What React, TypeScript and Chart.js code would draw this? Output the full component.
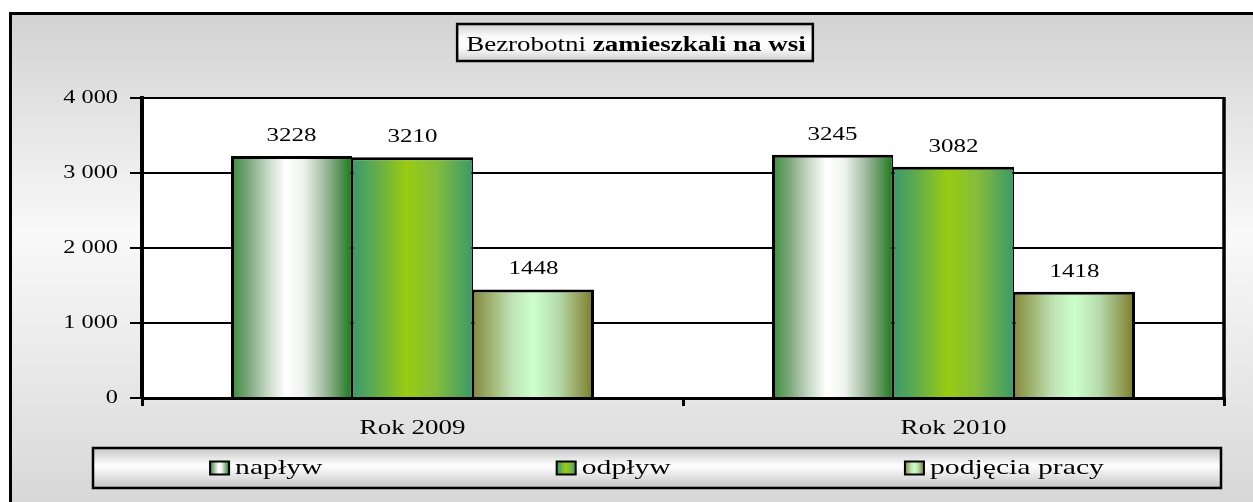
import { useEffect, useRef } from "react";
import { Chart, registerables } from "chart.js";

Chart.register(...registerables);

// ---- data ----
const categories = ["Rok 2009", "Rok 2010"];
const seriesNames = ["napływ", "odpływ", "podjęcia pracy"];
const naplyw = [3228, 3245];
const odplyw = [3210, 3082];
const podjecia = [1448, 1418];
const yTicks = [0, 1000, 2000, 3000, 4000];
const titleNormal = "Bezrobotni ";
const titleBold = "zamieszkali na wsi";

// ---- styles ----
const W = 1253;
const H = 502;
const SX = 1.35; // horizontal stretch of glyphs, as in the reference
const FONT = '"Liberation Serif", "Times New Roman", serif';

const STOPS: [number, string][][] = [
  [
    [0, "#3b8c3b"],
    [0.14, "#7aa67a"],
    [0.3, "#c4d7c4"],
    [0.45, "#ffffff"],
    [0.6, "#eef3ee"],
    [0.76, "#a6c0a6"],
    [0.9, "#5a945a"],
    [1, "#187c18"],
  ],
  [
    [0, "#3a9a6c"],
    [0.2, "#62ac4c"],
    [0.45, "#99cc11"],
    [0.7, "#84bc3c"],
    [1, "#3a9a6a"],
  ],
  [
    [0, "#848a3c"],
    [0.16, "#a2b676"],
    [0.32, "#bfe2b4"],
    [0.5, "#ccffcc"],
    [0.7, "#b7dcac"],
    [0.86, "#98a866"],
    [1, "#7a7a22"],
  ],
];
const BORDERS = [
  { top: 3, left: 3, right: 1.5, bottom: 0 },
  { top: 3, left: 1.5, right: 1.5, bottom: 0 },
  { top: 3, left: 1.5, right: 3, bottom: 0 },
];

function hGrad(ctx: CanvasRenderingContext2D, x0: number, x1: number, stops: [number, string][]) {
  const g = ctx.createLinearGradient(x0, 0, x1, 0);
  stops.forEach(([o, c]) => g.addColorStop(o, c));
  return g;
}

function fmt(v: number) {
  return String(v).replace(/\B(?=(\d{3})+(?!\d))/g, " ");
}

function scaleText(ctx: CanvasRenderingContext2D) {
  const a = ctx as any;
  if (a.__sx) return;
  a.__sx = true;
  const orig = ctx.fillText.bind(ctx);
  a.fillText = (text: string, x: number, y: number) => {
    ctx.save();
    ctx.translate(x, y);
    ctx.scale(SX, 1);
    orig(text, 0, 0);
    ctx.restore();
  };
}

const bgPlugin = {
  id: "bgFrame",
  beforeDraw(chart: any) {
    const { ctx, chartArea } = chart;
    ctx.save();
    ctx.fillStyle = "#ffffff";
    ctx.fillRect(0, 0, W, H);
    const g = ctx.createLinearGradient(0, 13, 0, H);
    g.addColorStop(0, "#d2d2d2");
    g.addColorStop(0.45, "#f9f9f9");
    g.addColorStop(1, "#d8d8d8");
    ctx.fillStyle = g;
    ctx.fillRect(10, 13, W, H);
    ctx.lineWidth = 3;
    ctx.strokeStyle = "#000";
    ctx.strokeRect(10.5, 13.5, W + 20, H + 20);
    ctx.fillStyle = "#ffffff";
    ctx.fillRect(chartArea.left, chartArea.top, chartArea.right - chartArea.left, chartArea.bottom - chartArea.top);
    ctx.restore();
  },
};

const barFillPlugin = {
  id: "barFill",
  beforeDatasetsDraw(chart: any) {
    const { ctx } = chart;
    chart.data.datasets.forEach((_: any, i: number) => {
      const meta = chart.getDatasetMeta(i);
      meta.data.forEach((el: any) => {
        const { x, width } = el.getProps(["x", "width"], true);
        const g = hGrad(ctx, x - width / 2, x + width / 2, STOPS[i]);
        el.options = { ...el.options, backgroundColor: g };
      });
    });
  },
};

const labelsPlugin = {
  id: "valueLabels",
  afterDatasetsDraw(chart: any) {
    const { ctx, chartArea } = chart;
    ctx.save();
    ctx.font = `18.5px ${FONT}`;
    ctx.fillStyle = "#000";
    ctx.textAlign = "center";
    ctx.textBaseline = "alphabetic";
    chart.data.datasets.forEach((ds: any, i: number) => {
      const meta = chart.getDatasetMeta(i);
      meta.data.forEach((el: any, j: number) => {
        const { x, y } = el.getProps(["x", "y"], true);
        ctx.fillText(String(ds.data[j]), x, y - 15);
      });
    });
    // right border of plot area
    ctx.strokeStyle = "#000";
    ctx.lineWidth = 3.5;
    ctx.beginPath();
    ctx.moveTo(chartArea.right, chartArea.top - 1);
    ctx.lineTo(chartArea.right, chartArea.bottom);
    ctx.stroke();
    ctx.restore();
  },
};

const boxesPlugin = {
  id: "titleLegend",
  afterDraw(chart: any) {
    const { ctx } = chart;
    ctx.save();
    ctx.textAlign = "left";
    ctx.textBaseline = "alphabetic";
    ctx.fillStyle = "#000";

    // title box
    ctx.font = `20px ${FONT}`;
    const w1 = ctx.measureText(titleNormal).width * SX;
    ctx.font = `bold 20px ${FONT}`;
    const w2 = ctx.measureText(titleBold).width * SX;
    const tw = w1 + w2;
    const cx = 636;
    const bx0 = cx - tw / 2 - 9;
    const bx1 = cx + tw / 2 + 7;
    const by0 = 24;
    const by1 = 61;
    const tg = ctx.createLinearGradient(0, by0, 0, by1);
    tg.addColorStop(0, "#d0d0d0");
    tg.addColorStop(0.35, "#fbfbfb");
    tg.addColorStop(0.65, "#fbfbfb");
    tg.addColorStop(1, "#d0d0d0");
    ctx.fillStyle = tg;
    ctx.fillRect(bx0, by0, bx1 - bx0, by1 - by0);
    ctx.lineWidth = 2.5;
    ctx.strokeStyle = "#000";
    ctx.strokeRect(bx0, by0, bx1 - bx0, by1 - by0);
    ctx.fillStyle = "#000";
    ctx.font = `20px ${FONT}`;
    ctx.fillText(titleNormal, cx - tw / 2, 51);
    ctx.font = `bold 20px ${FONT}`;
    ctx.fillText(titleBold, cx - tw / 2 + w1, 51);

    // legend box
    const lx0 = 93;
    const lx1 = 1221;
    const ly0 = 448;
    const ly1 = 488;
    const lg = ctx.createLinearGradient(0, ly0, 0, ly1);
    lg.addColorStop(0, "#c6c6c6");
    lg.addColorStop(0.45, "#ffffff");
    lg.addColorStop(1, "#c4c4c4");
    ctx.fillStyle = lg;
    ctx.fillRect(lx0, ly0, lx1 - lx0, ly1 - ly0);
    ctx.lineWidth = 2.5;
    ctx.strokeStyle = "#000";
    ctx.strokeRect(lx0, ly0, lx1 - lx0, ly1 - ly0);

    ctx.font = `22px ${FONT}`;
    const SQW = 19;
    const SQH = 13;
    const GAP = 6;
    const items = chart.data.datasets.map((ds: any) => ds.label as string);
    const widths = items.map((t: string) => SQW + GAP + ctx.measureText(t).width * SX);
    const total = widths.reduce((a: number, b: number) => a + b, 0);
    const p = (lx1 - lx0 - total) / (2 * items.length);
    let x = lx0 + p;
    const cy = 468;
    items.forEach((t: string, k: number) => {
      ctx.fillStyle = hGrad(ctx, x, x + SQW, STOPS[k]);
      ctx.fillRect(x, cy - SQH / 2, SQW, SQH);
      ctx.lineWidth = 2;
      ctx.strokeStyle = "#000";
      ctx.strokeRect(x, cy - SQH / 2, SQW, SQH);
      ctx.fillStyle = "#000";
      ctx.fillText(t, x + SQW + GAP, 474);
      x += widths[k] + 2 * p;
    });
    ctx.restore();
  },
};

export default function App() {
  const ref = useRef<HTMLCanvasElement | null>(null);

  useEffect(() => {
    const canvas = ref.current;
    if (!canvas) return;
    const c2d = canvas.getContext("2d");
    if (c2d) scaleText(c2d);
    const series = [naplyw, odplyw, podjecia];
    const chart = new Chart(canvas, {
      type: "bar",
      data: {
        labels: categories,
        datasets: series.map((d, i) => ({
          label: seriesNames[i],
          data: d,
          backgroundColor: STOPS[i][Math.floor(STOPS[i].length / 2)][1],
          borderColor: "#000000",
          borderWidth: BORDERS[i] as any,
          categoryPercentage: 0.671,
          barPercentage: 1,
        })),
      },
      options: {
        responsive: false,
        animation: false,
        devicePixelRatio: 1,
        layout: { padding: { top: 98, right: 29, left: 0, bottom: 0 } },
        plugins: {
          legend: { display: false },
          title: { display: false },
          tooltip: { enabled: false },
        },
        scales: {
          x: {
            offset: true,
            grid: {
              offset: true,
              drawOnChartArea: false,
              drawTicks: true,
              tickLength: 8,
              color: "#000",
              lineWidth: 3,
            },
            border: { color: "#000", width: 3 },
            ticks: { color: "#000", font: { family: FONT, size: 20 }, padding: 11 },
            afterFit: (s: any) => {
              s.height = 104;
            },
          },
          y: {
            min: 0,
            max: 4000,
            afterBuildTicks: (s: any) => {
              s.ticks = yTicks.map((v) => ({ value: v }));
            },
            ticks: {
              color: "#000",
              font: { family: FONT, size: 18 },
              padding: 12,
              callback: (v: any) => fmt(Number(v)),
            },
            grid: { color: "#000", lineWidth: 2, tickLength: 12 },
            border: { color: "#000", width: 4 },
            afterFit: (s: any) => {
              s.width = 142;
            },
          },
        },
      },
      plugins: [bgPlugin, barFillPlugin, labelsPlugin, boxesPlugin],
    });
    return () => chart.destroy();
  }, []);

  return (
    <div style={{ position: "fixed", left: 0, top: 0, width: W, height: H, background: "#fff" }}>
      <canvas ref={ref} width={W} height={H} style={{ display: "block", width: W, height: H }} />
    </div>
  );
}
